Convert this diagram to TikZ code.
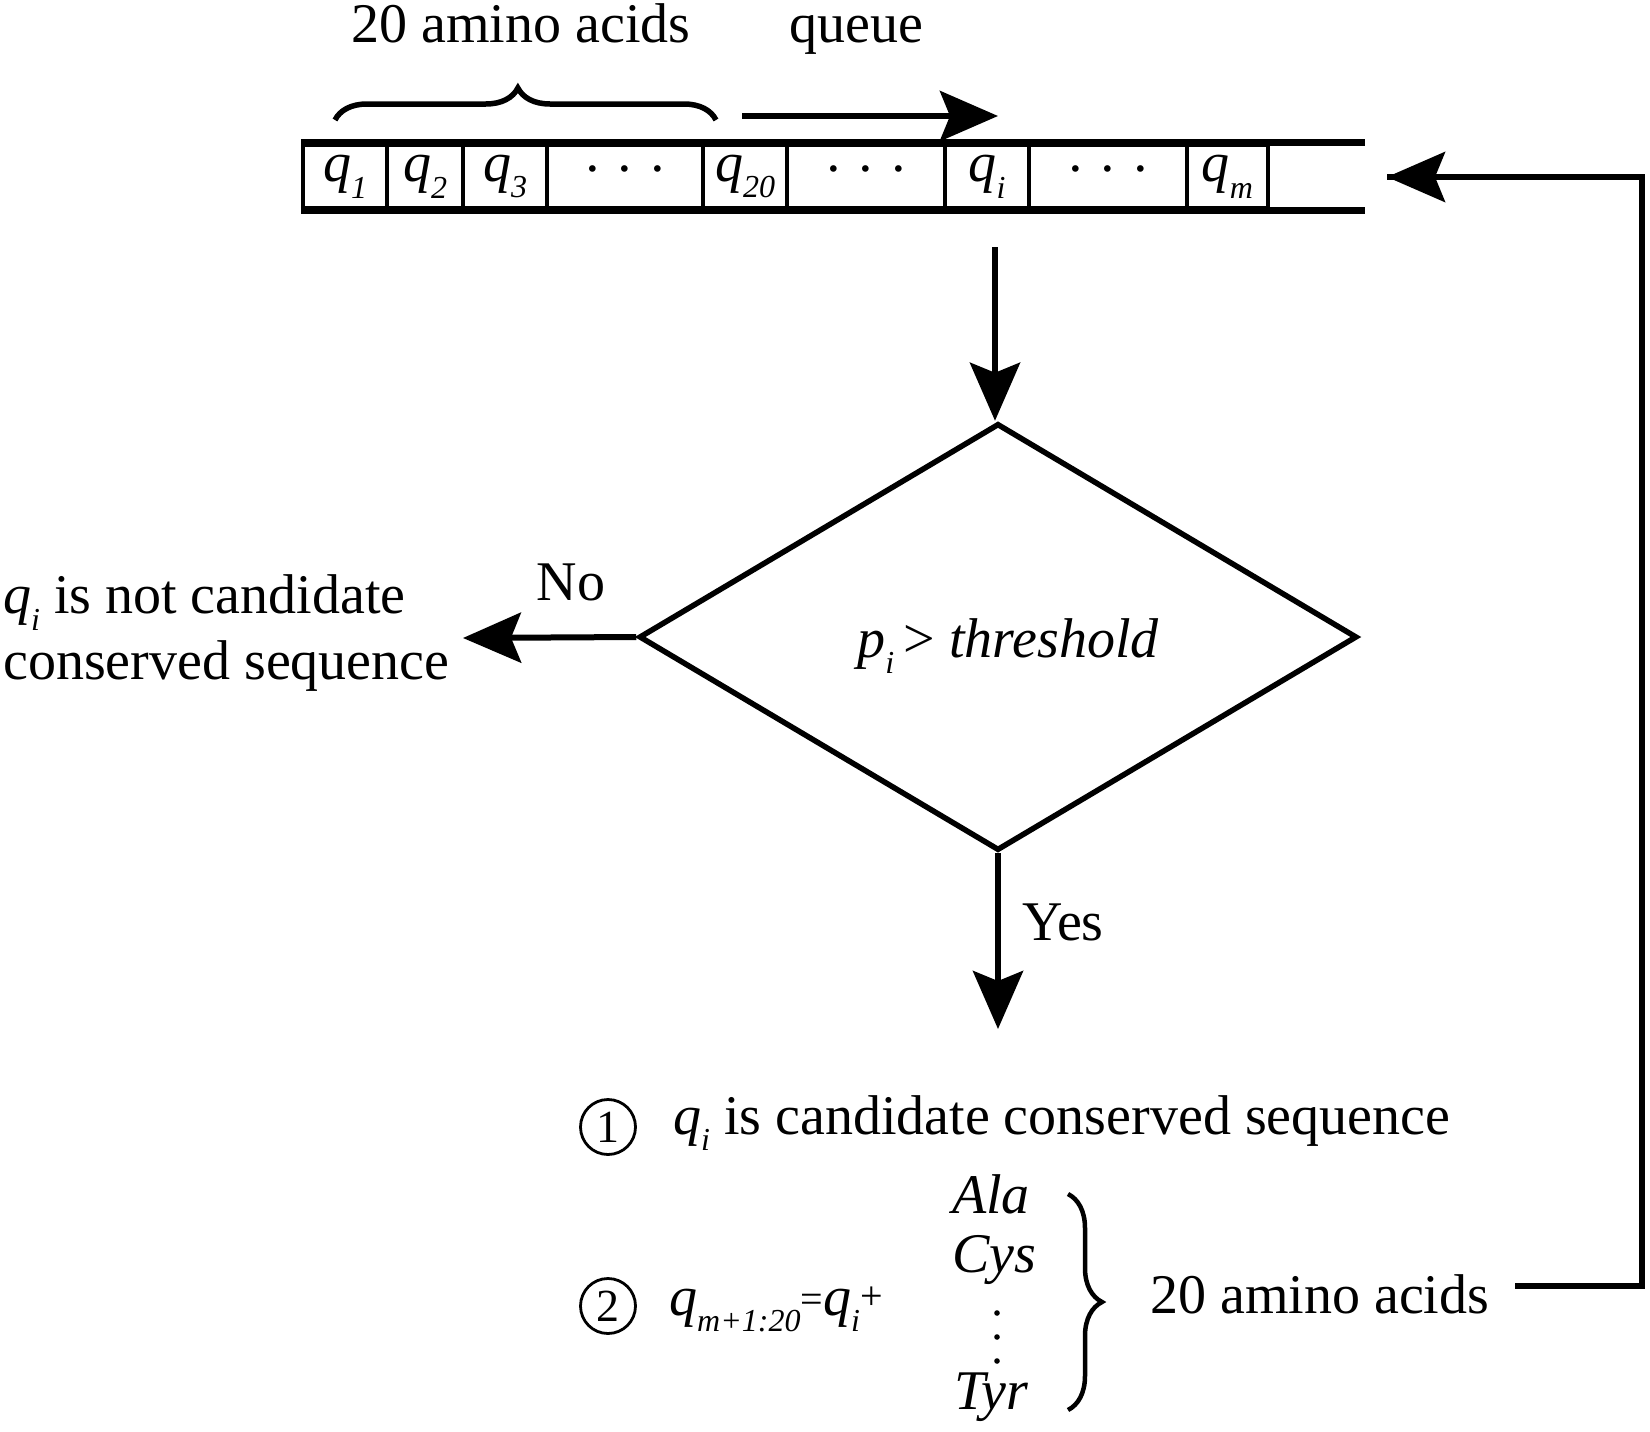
\documentclass[tikz,border=0pt]{standalone}
\usepackage{fontspec}
\setmainfont{Liberation Serif}
\usetikzlibrary{arrows.meta,shapes.geometric,decorations.pathreplacing}
\newcommand\qsub[2]{\textit{#1}\raisebox{-0.3em}{\fontsize{32}{34}\selectfont\textit{#2}}}
\begin{document}
\begin{tikzpicture}[x=1pt,y=-1pt,
  txt/.style={font=\fontsize{56}{66}\selectfont, inner sep=0pt},
  cell/.style={draw, line width=4.5pt, minimum height=63pt, inner sep=0pt, font=\fontsize{56}{58}\selectfont},
  arr/.style={line width=6pt, -{Stealth[length=58pt,width=50pt,inset=10pt]}},
  ln/.style={line width=5.5pt},
  num/.style={draw, circle, line width=2.8pt, minimum size=55pt, inner sep=0pt, font=\fontsize{46}{48}\selectfont}]
\path[use as bounding box] (0,0) rectangle (1650,1432);

% top labels
\node[txt, anchor=base] (aatop) at (521,42) {20 amino acids};
\node[txt, anchor=base] (queue) at (856,42) {queue};

% queue cells
\node[cell, minimum width=84pt]  (c1) at (345,176.5) {\qsub{q}{1}};
\node[cell, minimum width=76pt]  (c2) at (425,176.5) {\qsub{q}{2}};
\node[cell, minimum width=84pt]  (c3) at (505,176.5) {\qsub{q}{3}};
\node[cell, minimum width=156pt] (c4) at (625,176.5) {·~·~·};
\node[cell, minimum width=84pt]  (c5) at (745,176.5) {\qsub{q}{20}};
\node[cell, minimum width=158pt] (c6) at (866,176.5) {·~·~·};
\node[cell, minimum width=84pt]  (c7) at (987,176.5) {\qsub{q}{i}};
\node[cell, minimum width=158pt] (c8) at (1108,176.5) {·~·~·};
\node[cell, minimum width=81pt]  (c9) at (1227.5,176.5) {\qsub{q}{m}};
\coordinate (qend) at (1365,176.5);
\draw[line width=7pt] (c1.north west) -- (c1.north west -| qend);
\draw[line width=7pt] (c1.south west) -- (c1.south west -| qend);

% brace and queue arrow
\coordinate (brL) at (335,120);
\coordinate (brR) at (716,120);
\draw[line width=5.5pt, decorate, decoration={brace, amplitude=32pt, aspect=0.48}] (brL) -- (brR);
\coordinate (qa1) at (742,116);
\coordinate (qa2) at (998,116);
\draw[arr] (qa1) -- (qa2);

% decision
\node[diamond, draw, line width=5.5pt, minimum width=718pt, minimum height=427pt, inner sep=0pt] (dec) at (998,637) {};
\node[txt] (cond) at (1008,646) {\textit{p}\raisebox{-0.3em}{\fontsize{32}{34}\selectfont\textit{i}}\,> \textit{threshold}};
\coordinate (qout) at (995,247);
\draw[arr] (qout) -- (qout |- dec.north);

% No branch
\node[txt, align=left, anchor=west] (nocand) at (3,633) {\qsub{q}{i} is not candidate\\conserved sequence};
\coordinate (noend) at (463,638);
\draw[arr] (dec.west) -- (noend);
\node[txt] (no) at (571,582) {No};

% Yes branch
\coordinate (yesend) at (995,1029);
\draw[arr] (dec.south) -- (dec.south |- yesend);
\node[txt] (yes) at (1063,922) {Yes};

% results
\node[num] (n1) at (608,1127) {1};
\node[txt, anchor=base west] (r1) at (673,1134) {\qsub{q}{i} is candidate conserved sequence};
\node[num] (n2) at (608,1306) {2};
\node[txt, anchor=base west] (r2) at (669,1315) {\textit{q}\raisebox{-0.3em}{\fontsize{32}{34}\selectfont\textit{m+1:20}}\raisebox{0.05em}{\fontsize{40}{40}\selectfont =}\qsub{q}{i}\raisebox{0.1em}{\fontsize{40}{40}\selectfont +}};
\node[txt, font=\fontsize{56}{66}\selectfont\itshape] (ala) at (991,1194) {Ala};
\node[txt, font=\fontsize{56}{66}\selectfont\itshape] (cys) at (994,1260) {Cys};
\node[txt, font=\fontsize{56}{66}\selectfont\itshape] (tyr) at (991,1397) {Tyr};
\fill (997,1313) circle (2.8pt) (997,1337) circle (2.8pt) (997,1361) circle (2.8pt);
\coordinate (rbT) at (1068,1194);
\coordinate (rbB) at (1068,1410);
\draw[line width=4.5pt, decorate, decoration={brace, amplitude=34pt}] (rbT) -- (rbB);
\node[txt, anchor=base west] (aa20) at (1150,1313) {20 amino acids};

% feedback
\coordinate (fb0) at (1515,1286);
\coordinate (fb1) at (1642,1286);
\coordinate (fb2) at (1642,177);
\coordinate (fb3) at (1387,177);
\draw[ln] (fb0) -- (fb1) -- (fb2) -- (fb3);
\draw[arr] (fb2) -- (fb3);
\end{tikzpicture}
\end{document}
